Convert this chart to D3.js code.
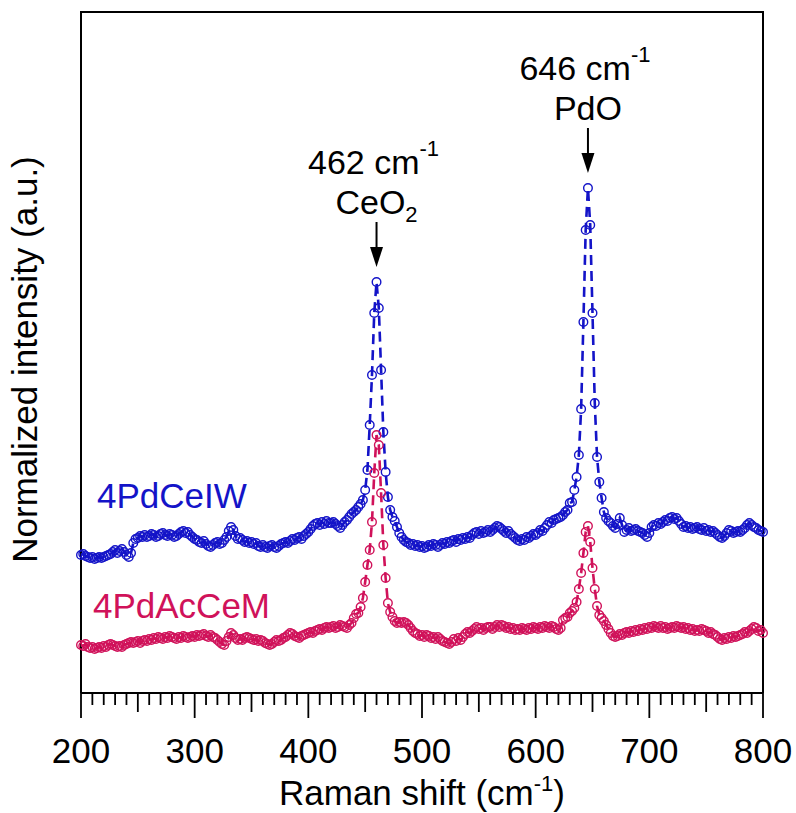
<!DOCTYPE html>
<html>
<head>
<meta charset="utf-8">
<script src="https://cdn.jsdelivr.net/npm/d3@7"></script>
<style>
  body { margin: 0; background: #fff; }
  text { font-family: "Liberation Sans", Arial, sans-serif; fill: #000; }
</style>
</head>
<body>
<script>
// Raman shift grid (cm-1), one reading every 2 cm-1
const ramanShift = d3.range(200, 801, 2);

// normalized intensity (a.u.), offset as plotted
const pdCeIW = [
  13.8,13.9,13.7,13.6,13.5,13.6,13.4,13.5,13.6,13.5, // 200
  13.6,13.7,13.8,13.9,14.1,14.3,14.0,14.2,14.4,14.1, // 220
  13.8,13.6,14.0,15.0,15.4,15.5,15.7,15.6,15.8,15.6, // 240
  15.7,15.9,15.8,15.6,15.7,15.9,16.0,15.8,15.7,15.9, // 260
  15.8,15.6,15.7,15.9,16.1,16.2,16.0,16.1,15.8,15.6, // 280
  15.4,15.3,15.1,15.0,15.2,14.9,14.7,14.6,14.8,15.0, // 300
  15.1,14.9,15.0,15.3,15.6,16.2,16.6,16.3,15.7,15.4, // 320
  15.5,15.3,15.1,15.2,15.0,15.1,14.9,15.0,14.7,14.6, // 340
  14.8,14.6,14.5,14.7,14.8,14.6,14.5,14.7,14.9,15.0, // 360
  15.1,15.0,15.2,15.4,15.3,15.5,15.6,15.4,15.7,15.9, // 380
  16.1,16.4,16.7,16.9,17.0,16.8,17.1,16.9,17.2,17.0, // 400
  17.0,17.1,16.9,16.7,16.5,16.8,17.1,17.3,17.6,17.9, // 420
  18.1,18.3,18.6,18.9,19.3,20.3,22.3,26.8,31.8,38.0, // 440
  41.1,38.5,32.3,26.1,22.1,19.6,18.3,17.6,17.2,16.6, // 460
  16.0,15.6,15.3,15.1,15.0,14.8,14.9,14.7,14.8,14.6, // 480
  14.7,14.5,14.6,14.8,14.7,14.9,14.8,14.6,14.8,15.0, // 500
  14.9,15.1,15.0,15.2,15.3,15.1,15.4,15.3,15.5,15.4, // 520
  15.6,15.5,15.8,16.0,16.1,15.9,16.2,16.0,16.1,16.3, // 540
  16.1,16.3,16.5,16.7,16.6,16.4,16.2,16.0,16.2,15.9, // 560
  15.7,15.5,15.3,15.2,15.4,15.3,15.6,15.5,15.7,15.9, // 580
  15.8,16.0,16.3,16.2,16.5,16.8,17.1,17.0,17.3,17.4, // 600
  17.5,17.6,17.8,18.1,18.3,19.0,19.1,20.3,21.6,23.8, // 620
  28.4,37.1,46.3,50.5,46.8,38.0,29.0,23.6,21.1,19.5, // 640
  18.1,17.5,17.2,17.0,16.7,16.5,16.9,17.5,16.8,16.1, // 660
  16.3,16.5,16.2,16.3,16.4,16.2,16.1,16.0,15.8,15.6, // 680
  16.0,16.6,16.8,16.7,17.0,16.9,17.1,17.3,17.2,17.5, // 700
  17.6,17.4,17.5,17.2,16.9,16.6,16.7,16.5,16.6,16.4, // 720
  16.5,16.6,16.4,16.3,16.5,16.2,16.3,16.1,16.2,16.0, // 740
  15.8,15.6,15.5,15.7,16.0,16.3,16.2,16.0,16.1,16.2, // 760
  16.1,16.3,16.5,16.8,17.0,16.8,16.6,16.5,16.3,16.2, // 780
  16.1
];

const pdAcCeM = [
  4.8,4.7,4.9,4.6,4.5,4.6,4.4,4.5,4.6,4.5, // 200
  4.7,4.6,4.8,4.9,4.8,4.7,4.6,4.7,4.6,4.8, // 220
  4.9,5.0,5.1,5.0,5.1,5.2,5.0,5.2,5.3,5.2, // 240
  5.4,5.3,5.5,5.4,5.6,5.5,5.4,5.6,5.5,5.7, // 260
  5.6,5.5,5.4,5.6,5.5,5.7,5.6,5.5,5.6,5.7, // 280
  5.6,5.8,5.7,5.8,5.9,5.7,5.6,5.8,5.6,5.5, // 300
  5.3,5.1,4.9,4.8,5.2,5.6,6.0,5.8,5.5,5.3, // 320
  5.4,5.3,5.5,5.6,5.5,5.4,5.3,5.4,5.2,5.3, // 340
  5.2,5.0,4.9,4.8,4.9,5.1,5.3,5.2,5.3,5.5, // 360
  5.6,5.8,6.0,5.9,5.7,5.6,5.5,5.7,5.8,5.9, // 380
  6.0,6.1,6.0,6.2,6.3,6.4,6.3,6.5,6.6,6.5, // 400
  6.6,6.7,6.5,6.6,6.8,6.7,6.6,6.5,6.8,7.0, // 420
  7.5,7.9,8.0,8.6,9.5,11.1,12.8,14.3,17.1,22.0, // 440
  25.8,24.8,20.0,14.8,11.5,9.0,8.1,7.6,7.2,7.0, // 460
  7.1,7.0,7.1,7.0,6.8,6.5,6.2,6.0,5.9,5.7, // 480
  5.8,5.6,5.8,5.7,5.5,5.6,5.4,5.6,5.4,5.2, // 500
  5.1,5.0,4.9,5.1,5.4,5.2,5.5,5.3,5.6,5.9, // 520
  6.1,6.0,6.2,6.4,6.6,6.4,6.5,6.3,6.5,6.6, // 540
  6.6,6.4,6.6,6.8,6.6,6.8,6.7,6.5,6.6,6.4, // 560
  6.5,6.3,6.4,6.3,6.5,6.4,6.3,6.5,6.4,6.6, // 580
  6.5,6.4,6.6,6.5,6.7,6.6,6.5,6.7,6.6,6.4, // 600
  6.3,6.5,7.3,7.5,7.6,8.0,8.2,8.5,9.1,10.4, // 620
  12.0,14.0,16.1,16.7,15.1,12.5,10.4,8.7,7.8,7.5, // 640
  7.2,6.8,6.4,6.0,5.7,5.6,5.7,5.9,5.8,6.0, // 660
  6.1,6.0,6.2,6.1,6.3,6.2,6.4,6.3,6.5,6.4, // 680
  6.6,6.5,6.7,6.6,6.5,6.7,6.5,6.6,6.4,6.5, // 700
  6.6,6.5,6.7,6.6,6.5,6.6,6.4,6.5,6.3,6.4, // 720
  6.2,6.3,6.2,6.4,6.3,6.2,6.0,6.1,5.9,5.8, // 740
  5.6,5.4,5.3,5.5,5.4,5.6,5.5,5.7,5.6,5.7, // 760
  5.8,5.9,6.1,6.0,6.2,6.4,6.6,6.5,6.2,6.3, // 780
  6.0
];

const seriesNames = ["4PdCeIW", "4PdAcCeM"];
const seriesColors = ["#1414c8", "#d0125a"];
const xTickValues = [200, 300, 400, 500, 600, 700, 800];

// peak annotations: grid position of the marked point, label, assignment
const peakShift = [460, 646];
const peakLabel = ["462", "646"];
const peakSpecies = [["CeO", "2"], ["PdO", ""]];

const width = 796, height = 813;
const margin = {top: 12, right: 33, bottom: 120, left: 81};

const svg = d3.select("body").append("svg")
    .attr("width", width)
    .attr("height", height);

const x = d3.scaleLinear()
    .domain([200, 800])
    .range([margin.left, width - margin.right]);

const y = d3.scaleLinear()
    .domain([0, 68.1])
    .range([height - margin.bottom, margin.top]);

const axisY = height - margin.bottom;

// frame (left, top, right)
svg.append("path")
    .attr("d", "M" + x(200) + "," + axisY + "V" + margin.top + "H" + x(800) + "V" + axisY)
    .attr("fill", "none")
    .attr("stroke", "#000")
    .attr("stroke-width", 2);

// bottom axis with 3 tick sizes
const minorTicks = d3.range(200, 801, 10);
const xAxis = svg.append("g").attr("transform", "translate(0," + axisY + ")");

xAxis.append("line")
    .attr("x1", x(200)).attr("x2", x(800))
    .attr("stroke", "#000").attr("stroke-width", 2);

xAxis.selectAll("line.tick")
    .data(minorTicks)
    .enter().append("line")
    .attr("class", "tick")
    .attr("x1", d => x(d)).attr("x2", d => x(d))
    .attr("y1", 0)
    .attr("y2", d => d % 100 === 0 ? 25 : (d % 50 === 0 ? 19 : 12))
    .attr("stroke", "#000")
    .attr("stroke-width", 1.8);

xAxis.selectAll("text")
    .data(xTickValues)
    .enter().append("text")
    .attr("x", d => x(d))
    .attr("y", 70)
    .attr("text-anchor", "middle")
    .attr("font-size", 35)
    .text(d => d);

// axis titles
const xTitle = svg.append("text")
    .attr("x", (x(200) + x(800)) / 2)
    .attr("y", 805)
    .attr("text-anchor", "middle")
    .attr("font-size", 35);
xTitle.append("tspan").text("Raman shift (cm");
xTitle.append("tspan").attr("font-size", 22).attr("dy", -14).text("-1");
xTitle.append("tspan").attr("dy", 14).text(")");

svg.append("text")
    .attr("transform", "translate(37," + ((margin.top + axisY) / 2 + 7) + ") rotate(-90)")
    .attr("text-anchor", "middle")
    .attr("font-size", 35)
    .text("Normalized intensity (a.u.)");

// spectra
const allSeries = [pdCeIW, pdAcCeM];

const line = d3.line()
    .x((d, i) => x(ramanShift[i]))
    .y(d => y(d));

allSeries.forEach(function (values, k) {
    svg.append("path")
        .datum(values)
        .attr("fill", "none")
        .attr("stroke", seriesColors[k])
        .attr("stroke-width", 2.6)
        .attr("stroke-dasharray", "10,6")
        .attr("d", line);

    svg.append("g")
        .selectAll("circle")
        .data(values)
        .enter().append("circle")
        .attr("cx", (d, i) => x(ramanShift[i]))
        .attr("cy", d => y(d))
        .attr("r", 4.3)
        .attr("fill", "none")
        .attr("stroke", seriesColors[k])
        .attr("stroke-width", 1.4);
});

// series labels
const labelPos = [[97, 508], [93, 618]];
seriesNames.forEach(function (name, k) {
    svg.append("text")
        .attr("x", labelPos[k][0])
        .attr("y", labelPos[k][1])
        .attr("font-size", 35)
        .style("fill", seriesColors[k])
        .text(name);
});

// peak arrows and labels
peakShift.forEach(function (p, k) {
    const i = ramanShift.indexOf(p);
    const px = x(p);
    const tip = y(pdCeIW[i]) - 15;
    const top = tip - 45;

    svg.append("line")
        .attr("x1", px).attr("x2", px)
        .attr("y1", top).attr("y2", tip - 12)
        .attr("stroke", "#000").attr("stroke-width", 2);
    svg.append("path")
        .attr("d", "M" + (px - 6.5) + "," + (tip - 20) + "L" + (px + 6.5) + "," + (tip - 20) + "L" + px + "," + tip + "Z")
        .attr("fill", "#000");

    const t1 = svg.append("text")
        .attr("x", px - 3)
        .attr("y", top - 48)
        .attr("text-anchor", "middle")
        .attr("font-size", 34);
    t1.append("tspan").text(peakLabel[k] + " cm");
    t1.append("tspan").attr("font-size", 22).attr("dy", -18).text("-1");

    const t2 = svg.append("text")
        .attr("x", px)
        .attr("y", top - 8)
        .attr("text-anchor", "middle")
        .attr("font-size", 34);
    t2.append("tspan").text(peakSpecies[k][0]);
    if (peakSpecies[k][1]) {
        t2.append("tspan").attr("font-size", 22).attr("dy", 8).text(peakSpecies[k][1]);
    }
});
</script>
</body>
</html>
